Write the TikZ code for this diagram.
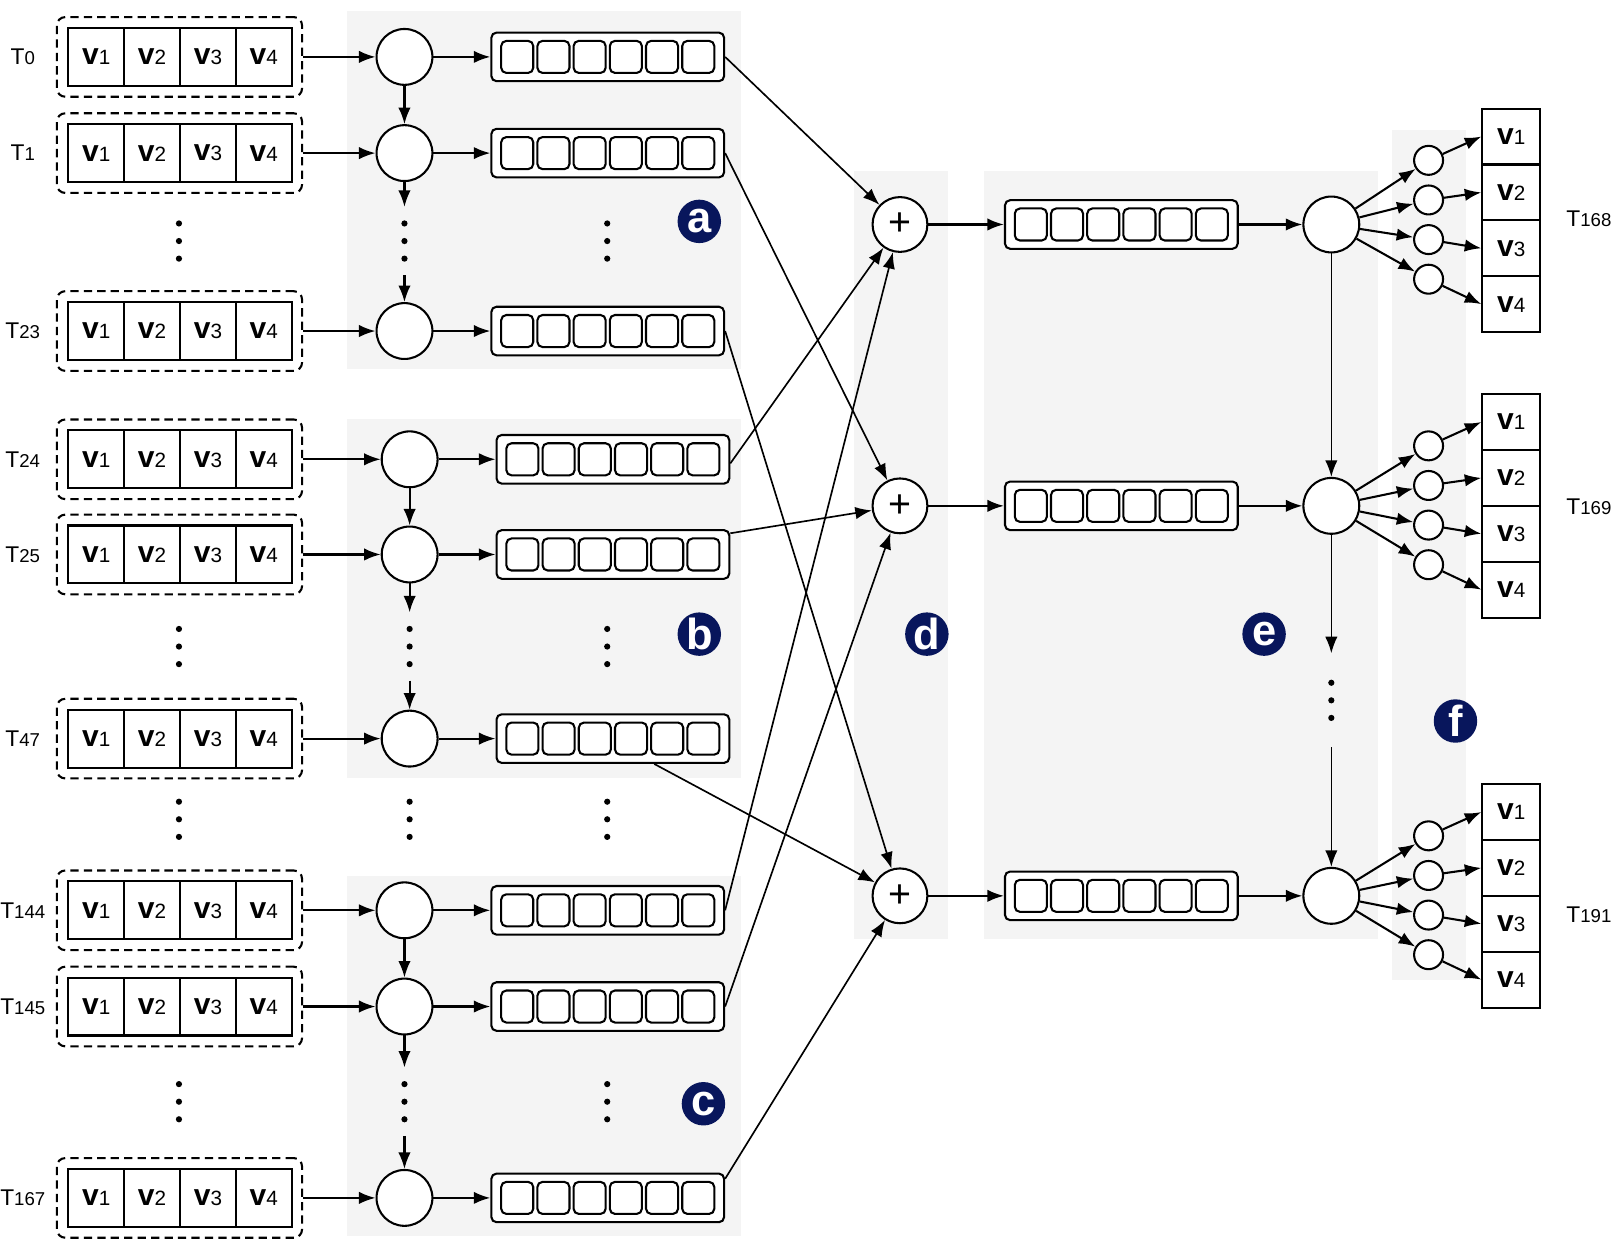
\documentclass[tikz,border=0pt]{standalone}
\usepackage{fontspec}
\setmainfont{Liberation Sans}
\usetikzlibrary{arrows.meta}
\definecolor{bggray}{RGB}{244,244,244}
\definecolor{navy}{RGB}{8,22,92}
\newcommand{\vname}[1]{{\fontsize{14.5}{16}\selectfont\bfseries v}{\fontsize{10}{11}\selectfont #1}}
\newcommand{\tname}[1]{{\fontsize{11}{12}\selectfont T}{\fontsize{9}{10}\selectfont #1}}

\begin{document}
\begin{tikzpicture}[x=0.5pt,y=-0.5pt,>={Latex[length=8pt,width=6pt]},line width=1pt,
  panel/.style={fill=bggray,draw=none},
  tlabel/.style={inner sep=0pt},
  dashbox/.style={draw,dash pattern=on 4pt off 2.5pt,rounded corners=4pt,minimum width=118.5pt,minimum height=38.5pt},
  vcell/.style={draw,fill=white,minimum width=27pt,minimum height=28pt,inner sep=0pt},
  unit/.style={circle,draw,fill=white,minimum size=27pt,inner sep=0pt},
  seqbox/.style={draw,fill=white,rounded corners=2.5pt,minimum width=112.5pt,minimum height=23.5pt},
  sqcell/.style={draw,rounded corners=2.5pt,minimum size=15.5pt,inner sep=0pt},
  sum/.style={circle,draw,fill=white,minimum size=26.5pt,inner sep=0pt,font=\fontsize{19}{19}\selectfont},
  outunit/.style={circle,draw,fill=white,minimum size=14pt,inner sep=0pt},
  ocell/.style={draw,fill=white,minimum width=28pt,minimum height=27pt,inner sep=0pt},
  tag/.style={circle,fill=navy,text=white,minimum size=21pt,inner sep=0pt,font=\fontsize{21}{21}\selectfont\bfseries},
  vdots/.style={minimum width=4pt,minimum height=32pt,inner sep=0pt,
    path picture={\fill (path picture bounding box.center) circle (1.5pt)
      ([yshift=8.5pt]path picture bounding box.center) circle (1.5pt)
      ([yshift=-8.5pt]path picture bounding box.center) circle (1.5pt);}},
  link/.style={->,line width=0.8pt}]
\useasboundingbox (0,0) rectangle (1568,1212);

% grey panels
\fill[panel] (335,11) rectangle (716,357);
\fill[panel] (335,405) rectangle (716,752);
\fill[panel] (335,847) rectangle (716,1195);
\fill[panel] (826,165) rectangle (916,908);
\fill[panel] (951,165) rectangle (1332,908);
\fill[panel] (1346,126) rectangle (1417,947);

% input rows
\foreach \y/\rw/\dx in {55/0/0,148/1/0,320/23/0,444/24/5,536/25/5,714/47/5,880/144/0,973/145/0,1158/167/0} {
  \node[tlabel] (t\rw) at (22,\y) {\tname{\rw}};
  \node[dashbox] (in\rw) at (173.5,\y) {};
  \foreach \i in {1,...,4}
    \node[vcell] (in\rw-\i) at (39+54*\i,\y) {\vname{\i}};
  \node[unit] (c\rw) at (391+\dx,\y) {};
  \node[seqbox] (s\rw) at (587.5+\dx,\y) {};
  \foreach \k in {0,...,5}
    \node[sqcell] (s\rw-\k) at (500+\dx+35*\k,\y) {};
  \draw[->] (in\rw) -- (c\rw);
  \draw[->] (c\rw) -- (s\rw);
}

% dots
\foreach \nm/\x/\y in {dl1/173/233,dl2/173/625,dl3/173/792,dl4/173/1065,
    dc1/391/233,dc2/396/625,dc3/396/792,dc4/391/1065,
    ds1/587/233,ds2/587/625,ds3/587/792,ds4/587/1065}
  \node[vdots] (\nm) at (\x,\y) {};
\node[vdots,minimum height=44.5pt] (de) at (1287,677) {};

\draw[->] (c0) -- (c1);
\draw[->] (c1) -- (dc1);
\draw[->] (dc1) -- (c23);
\draw[->] (c24) -- (c25);
\draw[->] (c25) -- (dc2);
\draw[->] (dc2) -- (c47);
\draw[->] (c144) -- (c145);
\draw[->] (c145) -- (dc4);
\draw[->] (dc4) -- (c167);

% decoder side
\foreach \n/\y/\ot/\ty in {168/217/105/211,169/489/381/490,191/866/758/884} {
  \node[sum] (p\n) at (870,\y) {+};
  \node[seqbox] (e\n) at (1084,\y) {};
  \foreach \k in {0,...,5}
    \node[sqcell] (e\n-\k) at (996.5+35*\k,\y) {};
  \node[unit] (h\n) at (1287,\y) {};
  \node[tlabel] (t\n) at (1536,\ty) {\tname{\n}};
  \draw[->] (p\n) -- (e\n);
  \draw[->] (e\n) -- (h\n);
  \foreach \i in {1,...,4} {
    \node[ocell] (o\n-\i) at (1461,\ot-27+54*\i) {\vname{\i}};
    \node[outunit] (u\n-\i) at (1381,\ot+11.7+38.3*\i) {};
    \draw[->] (h\n) -- (u\n-\i);
    \draw[->] (u\n-\i) -- (o\n-\i.west);
  }
}
\draw[link] (h168) -- (h169);
\draw[link] (h169) -- (de);
\draw[link] (de) -- (h191);

% skip connections
\draw[link] (s0.east) -- (p168);
\draw[link] ([yshift=-2pt]s24.east) -- (p168);
\draw[link] (s144.east) -- (p168);
\draw[link] (s1.east) -- (p169);
\draw[link] ([yshift=-2pt]s25.north east) -- (p169);
\draw[link] (s145.east) -- (p169);
\draw[link] (s23.east) -- (p191);
\draw[link] ([xshift=20pt]s47.south) -- (p191);
\draw[link] ([yshift=-3pt]s167.north east) -- (p191);

% panel tags
\node[tag] (ta) at (676,214) {a};
\node[tag] (tb) at (676,613) {b};
\node[tag] (tc) at (680,1067) {c};
\node[tag] (td) at (896,613) {d};
\node[tag] (tE) at (1222,613) {e};
\node[tag] (tf) at (1407,697) {f};
\end{tikzpicture}
\end{document}
